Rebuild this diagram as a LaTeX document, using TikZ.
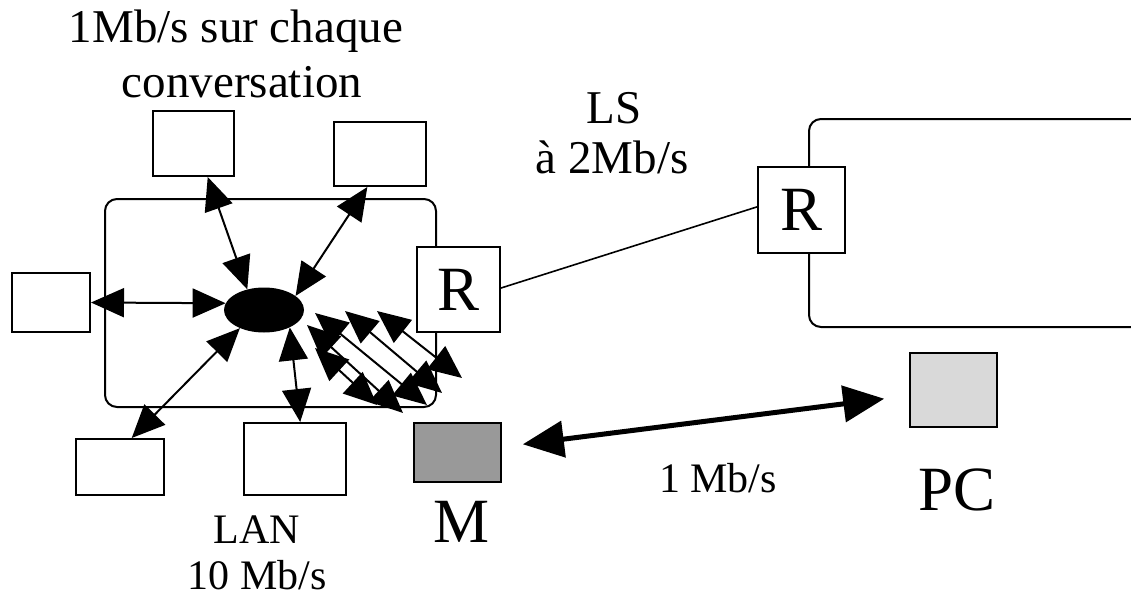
\documentclass[tikz,border=0pt]{standalone}
\usepackage{fontspec}
\setmainfont{Liberation Serif}
\usetikzlibrary{arrows.meta,shapes.geometric}

\begin{document}
\begin{tikzpicture}[x=1pt,y=-1pt,
  box/.style={draw,line width=2pt,fill=white,rectangle,inner sep=0pt},
  zone/.style={draw,line width=2pt,rectangle,rounded corners=12pt,inner sep=0pt},
  lbl/.style={font=\fontsize{42}{43}\selectfont,anchor=base,inner sep=0pt},
  toplbl/.style={font=\fontsize{47}{50}\selectfont,anchor=base,inner sep=0pt},
  biglbl/.style={font=\fontsize{63}{63}\selectfont,anchor=base,inner sep=0pt},
  dbl/.style={line width=2pt,>={Triangle[length=33pt,width=29pt]},<->},
  thick link/.style={line width=5pt,>={Triangle[length=41pt,width=36pt]},<->}
]
\clip (0,0) rectangle (1131,597);
\fill[white] (0,0) rectangle (1131,597);

% local network and remote site
\node[zone,minimum width=331pt,minimum height=208pt] (lan) at (270.5,303) {};
\node[zone,minimum width=341pt,minimum height=208pt] (site) at (979.5,223) {};

% stations around the local network
\node[box,minimum width=81pt,minimum height=65pt] (a1) at (193.5,143.5) {};
\node[box,minimum width=92pt,minimum height=64pt] (a2) at (380,154) {};
\node[box,minimum width=78pt,minimum height=59pt] (a3) at (51,302.5) {};
\node[box,minimum width=88pt,minimum height=56pt] (a4) at (120,467) {};
\node[box,minimum width=102pt,minimum height=72pt] (a5) at (295,459) {};

% routers
\node[box,minimum width=83pt,minimum height=85pt,font=\fontsize{63}{63}\selectfont] (rl) at (458.5,289.5) {R};
\node[box,minimum width=87pt,minimum height=86pt,font=\fontsize{63}{63}\selectfont] (rr) at (801.5,210) {R};

% modem and remote PC
\node[box,fill=black!40,minimum width=87pt,minimum height=59pt] (m) at (457.5,452.5) {};
\node[box,fill=black!15,minimum width=87pt,minimum height=74pt] (pc) at (953.5,390) {};

% central hub
\node[ellipse,fill=black,minimum width=80pt,minimum height=45pt,inner sep=0pt] (hub) at (264,310) {};

% leased line between routers
\draw[line width=1.6pt] (rl.2) -- (rr.176);

% links from the hub to the stations
\draw[dbl] (hub.129) -- (a1.-67);
\draw[dbl] (hub.24) -- (a2.-111);
\draw[dbl] (hub.170) -- (a3.0);
\draw[dbl] (hub.217) -- (a4.68);
\draw[dbl] (hub.-34) -- (a5.82);

% bundle of conversations towards router and modem
\coordinate (u1) at (377,311); \coordinate (v1) at (462,378);
\coordinate (u2) at (345,311); \coordinate (v2) at (442,393);
\coordinate (u3) at (315,313); \coordinate (v3) at (427,405);
\coordinate (u4) at (307,325); \coordinate (v4) at (403,413);
\coordinate (u5) at (315,348); \coordinate (v5) at (377,405);
\foreach \i in {1,...,5} \draw[dbl] (u\i) -- (v\i);

% modem to PC link
\draw[thick link,shorten <=21pt,shorten >=25pt] (m) -- (pc);

% labels
\node[toplbl] (t1) at (236,42) {1Mb/s sur chaque};
\node[toplbl] (t2) at (242,97) {conversation};
\node[toplbl] (ls1) at (614,123) {LS};
\node[toplbl] (ls2) at (612,173) {à 2Mb/s};
\node[lbl] (lan1) at (257,543) {LAN};
\node[lbl] (lan2) at (257,589) {10 Mb/s};
\node[lbl] (rate) at (718,492) {1 Mb/s};
\node[biglbl] (mlbl) at (462,542) {M};
\node[biglbl] (pclbl) at (957,510) {PC};
\end{tikzpicture}
\end{document}
